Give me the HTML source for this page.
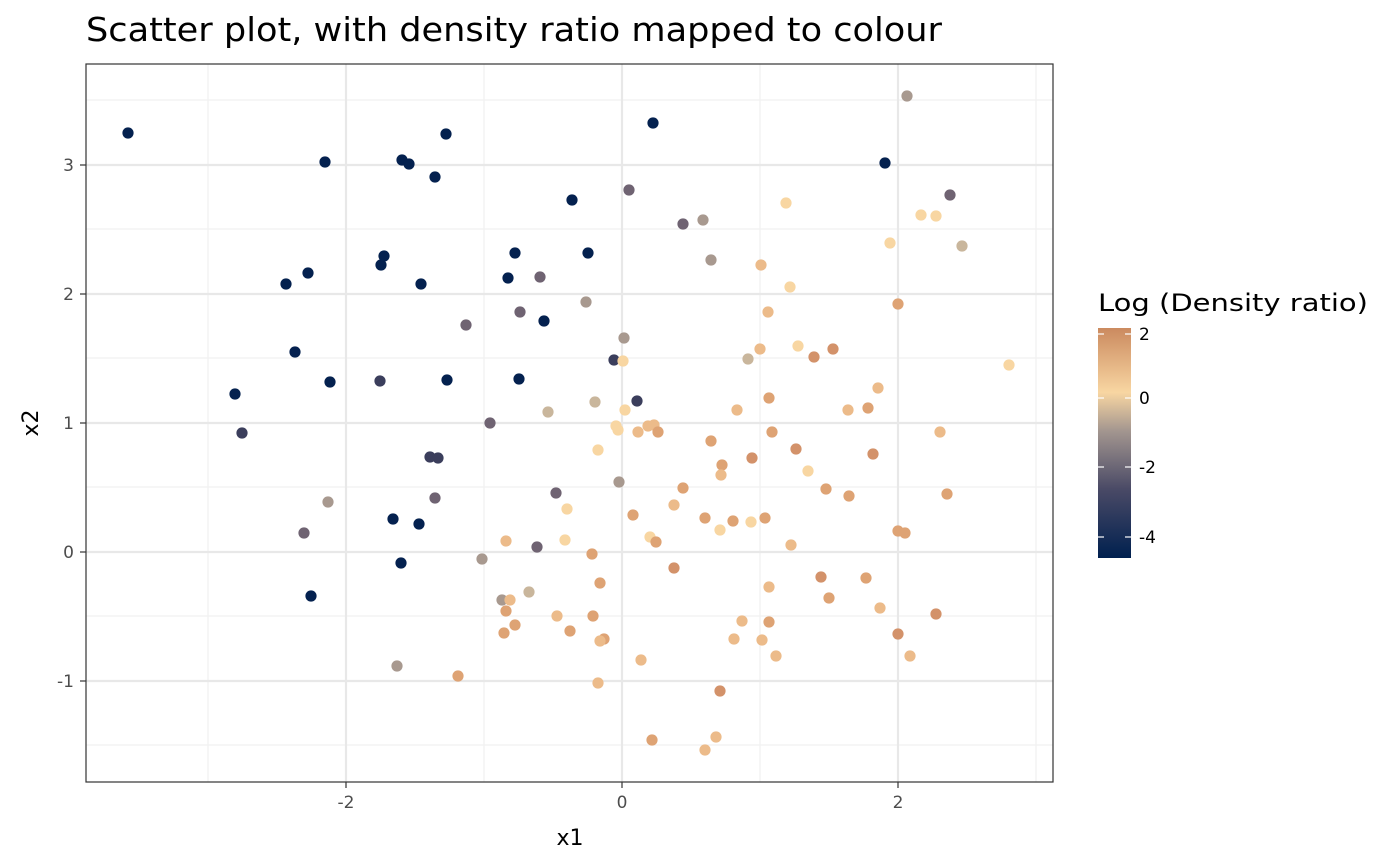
<!DOCTYPE html>
<html><head><meta charset="utf-8"><style>
html,body{margin:0;padding:0;background:#fff;}
svg{display:block;font-family:"DejaVu Sans","Liberation Sans",sans-serif;}
</style></head><body>
<svg width="1400" height="866" viewBox="0 0 1400 866">
<defs><linearGradient id="lg" x1="0" y1="1" x2="0" y2="0">
<stop offset="0" stop-color="#00204f"/><stop offset="0.3" stop-color="#4a4a66"/><stop offset="0.55" stop-color="#a2958f"/><stop offset="0.72" stop-color="#f8d6a2"/><stop offset="1" stop-color="#cb8a5f"/></linearGradient></defs>
<text x="86" y="41" font-size="33" fill="#000" textLength="856" lengthAdjust="spacingAndGlyphs">Scatter plot, with density ratio mapped to colour</text>
<rect x="86" y="64" width="967" height="718" fill="#fff"/>
<g stroke="#f1f1f1" stroke-width="1.2">
<line x1="208" y1="64" x2="208" y2="782"/><line x1="484" y1="64" x2="484" y2="782"/><line x1="760" y1="64" x2="760" y2="782"/><line x1="1036" y1="64" x2="1036" y2="782"/>
<line x1="86" y1="100" x2="1053" y2="100"/><line x1="86" y1="229" x2="1053" y2="229"/><line x1="86" y1="358" x2="1053" y2="358"/><line x1="86" y1="487" x2="1053" y2="487"/><line x1="86" y1="616" x2="1053" y2="616"/><line x1="86" y1="745" x2="1053" y2="745"/>
</g>
<g stroke="#e8e8e8" stroke-width="2.2">
<line x1="346" y1="64" x2="346" y2="782"/><line x1="622" y1="64" x2="622" y2="782"/><line x1="898" y1="64" x2="898" y2="782"/>
<line x1="86" y1="165" x2="1053" y2="165"/><line x1="86" y1="294" x2="1053" y2="294"/><line x1="86" y1="423" x2="1053" y2="423"/><line x1="86" y1="552" x2="1053" y2="552"/><line x1="86" y1="681" x2="1053" y2="681"/>
</g>
<g id="pts"></g>
<rect x="86" y="64" width="967" height="718" fill="none" stroke="#333" stroke-width="1.2"/>
<g stroke="#333" stroke-width="1.2"><line x1="346" y1="782" x2="346" y2="788"/><line x1="622" y1="782" x2="622" y2="788"/><line x1="898" y1="782" x2="898" y2="788"/>
<line x1="80" y1="165" x2="86" y2="165"/><line x1="80" y1="294" x2="86" y2="294"/><line x1="80" y1="423" x2="86" y2="423"/><line x1="80" y1="552" x2="86" y2="552"/><line x1="80" y1="681" x2="86" y2="681"/></g>
<g font-size="17" fill="#4d4d4d" text-anchor="middle"><text x="346" y="808">-2</text><text x="622" y="808">0</text><text x="898" y="808">2</text></g>
<g font-size="17" fill="#4d4d4d" text-anchor="end"><text x="74" y="171">3</text><text x="74" y="300">2</text><text x="74" y="429">1</text><text x="74" y="558">0</text><text x="74" y="687">-1</text></g>
<text x="570" y="845" font-size="22" text-anchor="middle">x1</text>
<text x="38" y="423" font-size="22" text-anchor="middle" transform="rotate(-90 38 423)">x2</text>
<text x="1098" y="311" font-size="24" textLength="270" lengthAdjust="spacingAndGlyphs">Log (Density ratio)</text>
<rect x="1098" y="328" width="33" height="230" fill="url(#lg)"/>
<g stroke="#fff" stroke-width="1.2"><line x1="1098" y1="334" x2="1104" y2="334"/><line x1="1125" y1="334" x2="1131" y2="334"/><line x1="1098" y1="398" x2="1104" y2="398"/><line x1="1125" y1="398" x2="1131" y2="398"/><line x1="1098" y1="467" x2="1104" y2="467"/><line x1="1125" y1="467" x2="1131" y2="467"/><line x1="1098" y1="537" x2="1104" y2="537"/><line x1="1125" y1="537" x2="1131" y2="537"/></g>
<g font-size="17" fill="#000"><text x="1139" y="340">2</text><text x="1139" y="404">0</text><text x="1139" y="473">-2</text><text x="1139" y="543">-4</text></g>
</svg>
<script>
var C={n:"#04214f",d:"#3b3e5c",g:"#6f6372",t:"#a8998f",b:"#c9b69c",l:"#f8d6a2",p:"#ecbb8a",o:"#dea374",r:"#d3926a"};
var P=[[128,133,'n'],[325,162,'n'],[402,160,'n'],[409,164,'n'],[446,134,'n'],[435,177,'n'],[572,200,'n'],[653,123,'n'],[885,163,'n'],[381,265,'n'],[384,256,'n'],[308,273,'n'],[286,284,'n'],[421,284,'n'],[515,253,'n'],[508,278,'n'],[544,321,'n'],[588,253,'n'],[295,352,'n'],[235,394,'n'],[330,382,'n'],[447,380,'n'],[519,379,'n'],[393,519,'n'],[419,524,'n'],[401,563,'n'],[311,596,'n'],[430,457,'d'],
[242,433,'d'],[438,458,'d'],[380,381,'d'],[614,360,'d'],[637,401,'d'],[556,493,'g'],[950,195,'g'],[540,277,'g'],[520,312,'g'],[466,325,'g'],[629,190,'g'],[683,224,'g'],[624,338,'t'],[435,498,'g'],[537,547,'g'],[490,423,'g'],
[397,666,'t'],[304,533,'g'],[328,502,'t'],[711,260,'t'],[703,220,'t'],[619,482,'t'],[482,559,'t'],[502,600,'t'],[586,302,'t'],[907,96,'t'],[748,359,'b'],[548,412,'b'],[595,402,'b'],[529,592,'b'],
[786,203,'l'],[890,243,'l'],[921,215,'l'],[936,216,'l'],[962,246,'b'],[761,265,'p'],[790,287,'l'],[898,304,'o'],[768,312,'p'],[798,346,'l'],[1009,365,'l'],[623,361,'l'],[760,349,'p'],[814,357,'r'],[833,349,'r'],[878,388,'p'],[769,398,'o'],[737,410,'p'],[625,410,'l'],[654,425,'p'],[638,432,'p'],[648,426,'p'],[658,432,'o'],[616,426,'l'],[618,430,'l'],[711,441,'o'],[796,449,'r'],[772,432,'o'],[868,408,'o'],[848,410,'p'],[808,471,'l'],[826,489,'o'],[849,496,'o'],[873,454,'r'],[940,432,'p'],[752,458,'r'],[722,465,'o'],[721,475,'p'],[683,488,'o'],[705,518,'o'],[947,494,'o'],[567,509,'l'],[633,515,'o'],[674,505,'p'],[751,522,'l'],[765,518,'o'],[720,530,'l'],[733,521,'o'],[791,545,'p'],[898,531,'o'],[905,533,'o'],[650,537,'l'],[656,542,'o'],[565,540,'l'],[598,450,'l'],[506,541,'p'],[674,568,'r'],[592,554,'o'],[866,578,'o'],[821,577,'r'],[769,587,'p'],[600,583,'o'],[510,600,'p'],[506,611,'o'],[593,616,'o'],[557,616,'p'],[829,598,'o'],[880,608,'p'],[936,614,'r'],[504,633,'o'],[515,625,'o'],[570,631,'o'],[604,639,'o'],[600,641,'p'],[742,621,'p'],[769,622,'o'],[762,640,'p'],[898,634,'r'],[734,639,'p'],[910,656,'p'],[776,656,'p'],[641,660,'p'],[458,676,'o'],[598,683,'p'],[720,691,'r'],[652,740,'o'],[716,737,'p'],[705,750,'p']];
var g=document.getElementById('pts'),s='';
P.forEach(function(p){s+='<circle cx="'+p[0]+'" cy="'+p[1]+'" r="5.6" fill="'+C[p[2]]+'"/>';});
g.innerHTML=s;
</script>
</body></html>
